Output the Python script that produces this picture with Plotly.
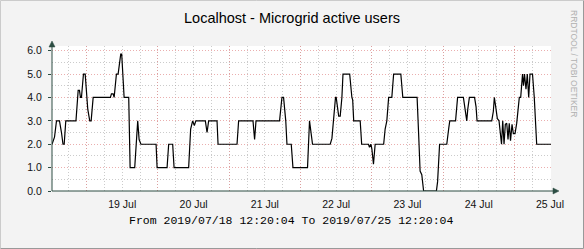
import plotly.graph_objects as go
import pandas as pd

# ---- data ----
start_time = "2019-07-18 12:20:04"
end_time = "2019-07-25 12:20:04"

hours_from_start = [
    0, 0.84, 1.51, 2.52, 3.19, 3.70, 4.10, 4.64, 8.07, 8.81, 9.25, 9.58, 9.92,
    10.59, 11.17, 12.04, 12.71, 13.18, 13.86, 19.67, 20.01, 20.58, 20.92, 21.36,
    21.69, 22.26, 23.14, 23.47, 24.28, 25.83, 26.30, 27.85, 28.32, 28.86, 29.33,
    29.94, 35.04, 35.38, 38.74, 39.28, 40.63, 41.10, 46.01, 46.68, 47.35, 47.93,
    48.43, 51.63, 52.20, 52.74, 55.56, 55.90, 62.29, 62.83, 67.67, 68.21, 68.68,
    76.61, 77.42, 77.96, 78.70, 79.10, 80.55, 81.12, 86.03, 86.70, 87.71, 93.67,
    94.24, 94.84, 95.45, 95.68, 96.52, 97.03, 97.60, 97.97, 100.22, 100.96,
    101.23, 101.57, 103.76, 104.26, 106.55, 106.89, 107.36, 107.69, 108.23,
    108.80, 111.66, 112.16, 112.73, 113.34, 114.41, 115.02, 117.44, 118.11,
    122.92, 123.43, 123.93, 124.50, 125.11, 129.42, 129.82, 130.49, 132.91,
    133.59, 133.92, 135.87, 136.55, 138.50, 139.07, 139.64, 139.98, 140.52,
    142.26, 142.77, 143.10, 148.05, 148.58, 148.92, 149.39, 149.93, 150.50,
    150.94, 151.34, 151.75, 152.19, 152.62, 153.10, 153.53, 153.94, 154.37,
    154.88, 155.32, 155.89, 156.46, 157.33, 157.80, 158.41, 158.74, 159.08,
    159.58, 160.02, 160.49, 160.93, 161.77, 162.37, 163.18, 168.0,
]
active_users = [
    2.0, 2.3, 3.0, 3.0, 2.5, 2.0, 2.0, 3.0, 3.0, 4.3, 4.3, 4.0, 4.0,
    5.0, 5.0, 3.5, 3.0, 3.0, 4.0, 4.0, 4.15, 4.15, 4.0, 4.65,
    5.0, 5.0, 5.85, 5.85, 4.0, 4.0, 1.0, 1.0, 2.2, 3.0, 2.2,
    2.0, 2.0, 1.0, 1.0, 2.0, 2.0, 1.0, 1.0, 2.65, 3.0, 2.8,
    3.0, 3.0, 2.5, 3.0, 3.0, 2.0, 2.0, 3.0, 3.0, 2.2, 3.0,
    3.0, 4.0, 4.0, 3.0, 2.0, 2.0, 1.0, 1.0, 3.0, 2.0, 2.0,
    2.25, 3.3, 4.0, 4.0, 3.2, 3.2, 4.0, 5.0, 5.0, 4.0,
    3.9, 3.0, 3.0, 2.0, 2.0, 1.87, 2.0, 1.8, 1.15,
    2.0, 2.0, 2.65, 3.0, 4.0, 4.0, 5.0, 5.0, 4.0,
    4.0, 2.45, 0.85, 0.7, 0.0, 0.0, 0.4, 2.0, 2.0,
    2.7, 3.0, 3.0, 4.0, 4.0, 3.5, 3.0, 3.5, 4.0,
    4.0, 3.6, 3.0, 3.0, 3.4, 4.0, 3.6, 3.1, 3.0,
    2.4, 2.0, 3.0, 2.0, 2.85, 2.9, 2.2, 2.9, 2.15,
    2.85, 2.45, 2.45, 2.9, 4.0, 4.0, 5.0, 4.5, 5.0,
    4.35, 5.0, 4.0, 5.0, 5.0, 4.0, 2.0, 2.0,
]

day_labels = ["19 Jul", "20 Jul", "21 Jul", "22 Jul", "23 Jul", "24 Jul", "25 Jul"]
day_dates = ["2019-07-19", "2019-07-20", "2019-07-21", "2019-07-22",
             "2019-07-23", "2019-07-24", "2019-07-25"]
y_max = 6.2

title_text = "Localhost - Microgrid active users"
footer_text = "From 2019/07/18 12:20:04 To 2019/07/25 12:20:04"
side_text = "RRDTOOL / TOBI OETIKER"

# ---- build ----
t0 = pd.Timestamp(start_time)
t1 = pd.Timestamp(end_time)
xs = [t0 + pd.Timedelta(hours=h) for h in hours_from_start]
midnights = [pd.Timestamp(d) for d in day_dates]
noons = [pd.Timestamp(d) + pd.Timedelta(hours=12) for d in day_dates]

W, H = 584, 249
ML, MR, MT, MB = 52, 33, 46, 58
PW, PH = W - ML - MR, H - MT - MB


def px(X):
    return (X - ML) / PW


def py(Y):
    return (H - MB - Y) / PH


fig = go.Figure()
fig.add_trace(go.Scatter(
    x=xs, y=active_users, mode="lines",
    line=dict(color="#000000", width=1.2, shape="linear"),
    showlegend=False, hoverinfo="skip"))
fig.add_trace(go.Scatter(
    x=[t0, t1], y=[None, None], xaxis="x2", mode="lines",
    showlegend=False, hoverinfo="skip"))

MAJOR = "rgba(225,140,140,0.7)"
MINOR = "rgba(160,160,160,0.55)"
DASH = "1px,2px"
FONT = "Liberation Sans, Arial, sans-serif"

fig.update_layout(
    width=W, height=H,
    margin=dict(l=ML, r=MR, t=MT, b=MB, pad=0),
    paper_bgcolor="#f3f3f3",
    plot_bgcolor="#ffffff",
    font=dict(family=FONT, size=10.5, color="#111111"),
    xaxis=dict(
        type="date", range=[t0, t1],
        tickmode="array", tickvals=midnights, ticktext=[""] * len(midnights),
        showticklabels=False, ticks="",
        showgrid=True, gridcolor=MAJOR, griddash=DASH, gridwidth=1,
        zeroline=False, showline=False,
        minor=dict(dtick=6 * 3600 * 1000, tick0="2019-07-18 00:00",
                   showgrid=True, gridcolor=MINOR, griddash=DASH, gridwidth=1,
                   ticks=""),
    ),
    xaxis2=dict(
        type="date", range=[t0, t1], overlaying="x", side="bottom", anchor="y",
        tickmode="array", tickvals=noons, ticktext=day_labels,
        showgrid=False, ticks="", zeroline=False, showline=False,
        tickfont=dict(family=FONT, size=10.5, color="#111111"),
        ticklabelstandoff=5,
    ),
    yaxis=dict(
        range=[0, y_max], tickmode="linear", tick0=0, dtick=1,
        tickformat=".1f", ticks="outside", ticklen=3, tickcolor="#2c4d43",
        showgrid=True, gridcolor=MAJOR, griddash=DASH, gridwidth=1,
        zeroline=False, showline=False,
        tickfont=dict(family=FONT, size=10.5, color="#111111"),
        ticklabelstandoff=4,
        minor=dict(dtick=0.5, tick0=0, showgrid=True, gridcolor=MINOR,
                   griddash=DASH, gridwidth=1, ticks=""),
    ),
)

AX = "#2c4d43"
shapes = [
    # x axis + arrow
    dict(type="line", xref="paper", yref="paper", x0=0, y0=0, x1=px(555), y1=0,
         line=dict(color=AX, width=1)),
    dict(type="path", xref="paper", yref="paper",
         path=f"M {px(553)},{py(188)} L {px(559)},{py(191)} L {px(553)},{py(194)} Z",
         fillcolor=AX, line=dict(color=AX, width=0.5)),
    # y axis + arrow
    dict(type="line", xref="paper", yref="paper", x0=0, y0=0, x1=0, y1=py(45),
         line=dict(color=AX, width=1)),
    dict(type="path", xref="paper", yref="paper",
         path=f"M {px(49)},{py(47)} L {px(52)},{py(41)} L {px(55)},{py(47)} Z",
         fillcolor=AX, line=dict(color=AX, width=0.5)),
    # outer frame
    dict(type="path", xref="paper", yref="paper",
         path=f"M {px(0.5)},{py(248.5)} L {px(0.5)},{py(0.5)} L {px(583.5)},{py(0.5)}",
         line=dict(color="#cbcbcb", width=1)),
    dict(type="path", xref="paper", yref="paper",
         path=f"M {px(0.5)},{py(248.5)} L {px(583.5)},{py(248.5)} L {px(583.5)},{py(0.5)}",
         line=dict(color="#999999", width=1)),
]
fig.update_layout(shapes=shapes)

fig.add_annotation(text=title_text, xref="paper", yref="paper",
                   x=px(292), y=py(18), xanchor="center", yanchor="middle",
                   showarrow=False,
                   font=dict(family=FONT, size=14.5, color="#000000"))
fig.add_annotation(text=footer_text, xref="paper", yref="paper",
                   x=px(291), y=py(220), xanchor="center", yanchor="middle",
                   showarrow=False,
                   font=dict(family="Liberation Mono, Courier New, monospace",
                             size=11.5, color="#000000"))
fig.add_annotation(text=side_text, xref="paper", yref="paper",
                   x=px(574), y=py(63), xanchor="center", yanchor="middle",
                   textangle=90, showarrow=False,
                   font=dict(family=FONT, size=8.5, color="#b0b0b0"))

fig.write_html("out.html")
